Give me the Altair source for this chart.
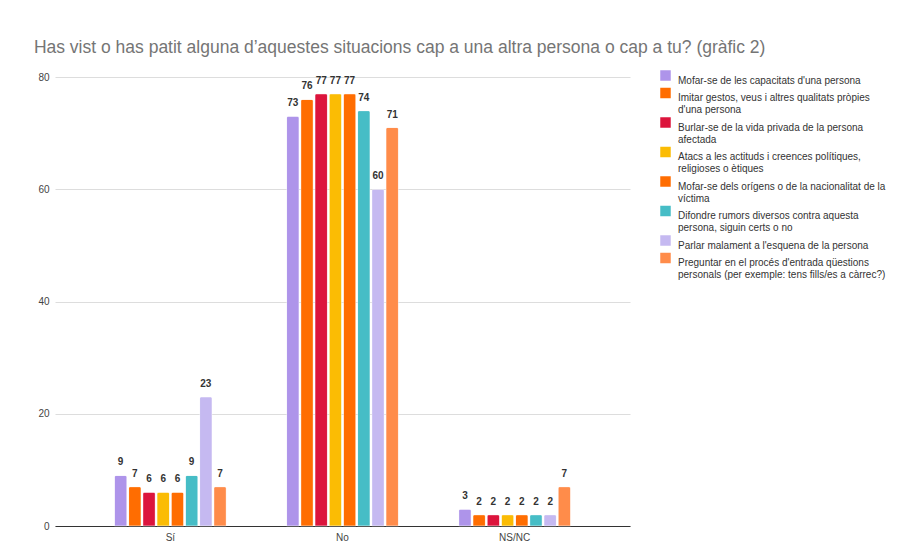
import json
import altair as alt
import pandas as pd

categories = ["Sí", "No", "NS/NC"]
series = [
    "Mofar-se de les capacitats d'una persona",
    "Imitar gestos, veus i altres qualitats pròpies d'una persona",
    "Burlar-se de la vida privada de la persona afectada",
    "Atacs a les actituds i creences polítiques, religioses o ètiques",
    "Mofar-se dels orígens o de la nacionalitat de la víctima",
    "Difondre rumors diversos contra aquesta persona, siguin certs o no",
    "Parlar malament a l'esquena de la persona",
    "Preguntar en el procés d'entrada qüestions personals (per exemple: tens fills/es a càrrec?)",
]
legend_lines = [
    ["Mofar-se de les capacitats d'una persona"],
    ["Imitar gestos, veus i altres qualitats pròpies", "d'una persona"],
    ["Burlar-se de la vida privada de la persona", "afectada"],
    ["Atacs a les actituds i creences polítiques,", "religioses o ètiques"],
    ["Mofar-se dels orígens o de la nacionalitat de la", "víctima"],
    ["Difondre rumors diversos contra aquesta", "persona, siguin certs o no"],
    ["Parlar malament a l'esquena de la persona"],
    ["Preguntar en el procés d'entrada qüestions", "personals (per exemple: tens fills/es a càrrec?)"],
]
colors = ["#ae94ea", "#ff6d01", "#dc143c", "#fbbc04", "#ff6d01", "#46bdc6", "#c5b9f1", "#ff8c4a"]
values_si = [9, 7, 6, 6, 6, 9, 23, 7]
values_no = [73, 76, 77, 77, 77, 74, 60, 71]
values_nsnc = [3, 2, 2, 2, 2, 2, 2, 7]

rows = []
for cat, vals in zip(categories, [values_si, values_no, values_nsnc]):
    for i, (s, v) in enumerate(zip(series, vals)):
        rows.append({"cat": cat, "serie": s, "order": i, "value": v})
df = pd.DataFrame(rows)

label_map = {s: l for s, l in zip(series, legend_lines)}
label_expr = json.dumps(label_map, ensure_ascii=False) + "[datum.label]"

x = alt.X("cat:N", sort=categories, title=None,
          scale=alt.Scale(paddingInner=0.35, paddingOuter=0.345),
          axis=alt.Axis(labelAngle=0, ticks=False, domainColor="#333333", domainWidth=1,
                        labelColor="#444444", labelFontSize=10, labelPadding=6, labelFont="Liberation Sans"))
xo = alt.XOffset("serie:N", sort=series, scale=alt.Scale(paddingInner=0.12))
y = alt.Y("value:Q", title=None,
          scale=alt.Scale(domain=[0, 80]),
          axis=alt.Axis(values=[0, 20, 40, 60, 80], domain=False, ticks=False, gridColor="#dddddd",
                        labelColor="#444444", labelFontSize=10, labelPadding=6, labelFont="Liberation Sans"))
color = alt.Color("serie:N", sort=series, scale=alt.Scale(domain=series, range=colors),
                  legend=alt.Legend(title=None, orient="none", legendX=605, legendY=-7,
                                    symbolType="square",
                                    symbolSize=110, symbolStrokeWidth=0, labelFontSize=10,
                                    labelColor="#333333", labelFont="Liberation Sans", labelLimit=300,
                                    labelExpr=label_expr, rowPadding=1.5, labelBaseline="top",
                                    labelOffset=7, padding=0))

base = alt.Chart(df).encode(x=x, xOffset=xo, y=y)
bars = base.mark_bar(cornerRadiusTopLeft=2, cornerRadiusTopRight=2, stroke="white",
                     strokeOpacity=0.35, strokeWidth=1).encode(color=color)
labels = base.mark_text(dy=-13, fontSize=10, fontWeight="bold", color="#333333",
                        font="Liberation Sans").encode(text="value:Q")

chart = alt.layer(bars, labels).properties(
    width=575, height=449,
    title=alt.TitleParams("Has vist o has patit alguna d’aquestes situacions cap a una altra persona o cap a tu? (gràfic 2)",
                          anchor="start", dx=-4, offset=14, fontSize=17.5, fontWeight="normal",
                          color="#757575", font="Liberation Sans"),
    padding={"left": 47, "top": 69, "right": 262, "bottom": 20},
    autosize=alt.AutoSizeParams(type="none"),
    background="white",
).configure_view(stroke=None)

chart.save("out.html", embed_options={"renderer": "svg", "actions": False})
